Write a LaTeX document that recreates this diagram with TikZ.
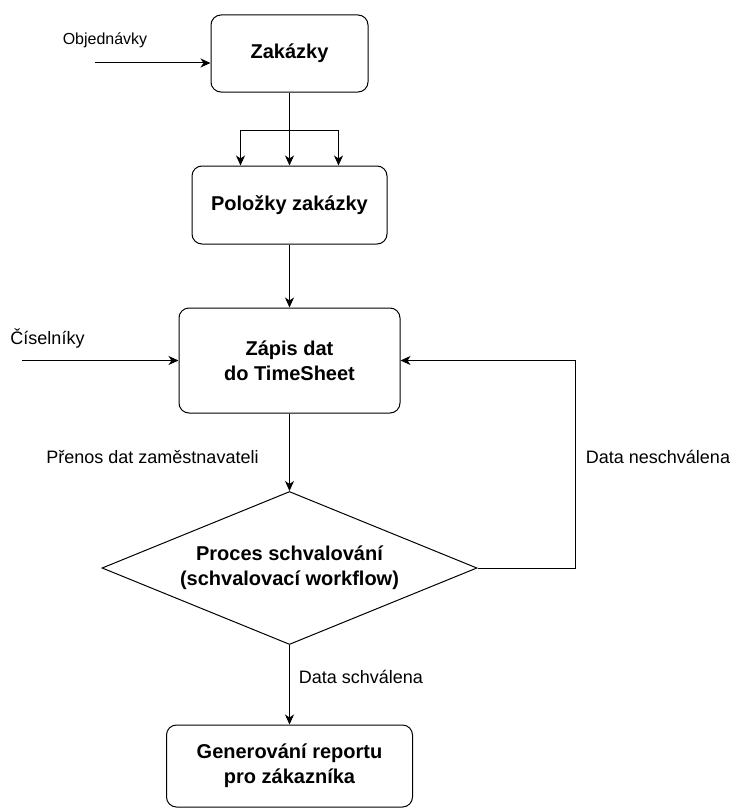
\documentclass[tikz,border=0pt]{standalone}
\usepackage{fontspec}
\setmainfont{Liberation Sans}
\usetikzlibrary{shapes.geometric,arrows.meta}
\tikzset{
  stepbox/.style={draw,rounded corners=10pt,align=center,inner sep=0pt,
    font=\fontsize{20}{25}\selectfont\bfseries},
  decbox/.style={draw,diamond,aspect=2.45,align=center,inner sep=0pt,
    minimum width=375pt,minimum height=153pt,
    font=\fontsize{20}{25}\selectfont\bfseries},
  flowlbl/.style={font=\fontsize{18}{22}\selectfont,inner sep=0pt},
  flow/.style={-{Stealth[length=10pt,width=9pt,inset=3pt]}}
}
\begin{document}
\begin{tikzpicture}[x=1pt,y=-1pt,line width=1pt]
\useasboundingbox (0,0) rectangle (739,808);
% boxes
\node[stepbox,minimum width=157pt,minimum height=77pt](zak) at (289.5,53.5){Zakázky};
\node[stepbox,minimum width=195pt,minimum height=78pt](pol) at (289.5,205){Položky zakázky};
\node[stepbox,minimum width=221pt,minimum height=105pt](zap) at (289.5,360.5){Zápis dat\\do TimeSheet};
\node[decbox](dec) at (289.5,568){Proces schvalování\\(schvalovací workflow)};
\node[stepbox,minimum width=246pt,minimum height=82pt](gen) at (289.5,766){Generování reportu\\pro zákazníka};
% inputs
\coordinate(objin) at (95,63);
\coordinate(cisin) at (22,360.5);
\node[flowlbl,font=\fontsize{16}{20}\selectfont](objlb) at (105,40){Objednávky};
\node[flowlbl](cislb) at (47.5,338){Číselníky};
\draw[flow](objin)--(zak.west|-objin);
\draw[flow](cisin)--(zap.west);
% split into items
\coordinate(split) at (289.5,130);
\draw(zak.south)--(split);
\draw([xshift=-49pt]split)--([xshift=49pt]split);
\foreach \dx in {-49,0,49}{\draw[flow]([xshift=\dx pt]split)--([xshift=\dx pt]pol.north);}
\draw[flow](pol.south)--(zap.north);
% approval
\draw[flow](zap.south)--(dec.north);
\node[flowlbl](prelb) at (152.5,457){Přenos dat zaměstnavateli};
\draw[flow](dec.east)--++(98,0)|-(zap.east);
\node[flowlbl](neslb) at (658,457){Data neschválena};
\draw[flow](dec.south)--(gen.north);
\node[flowlbl](schlb) at (361,677){Data schválena};
\end{tikzpicture}
\end{document}
